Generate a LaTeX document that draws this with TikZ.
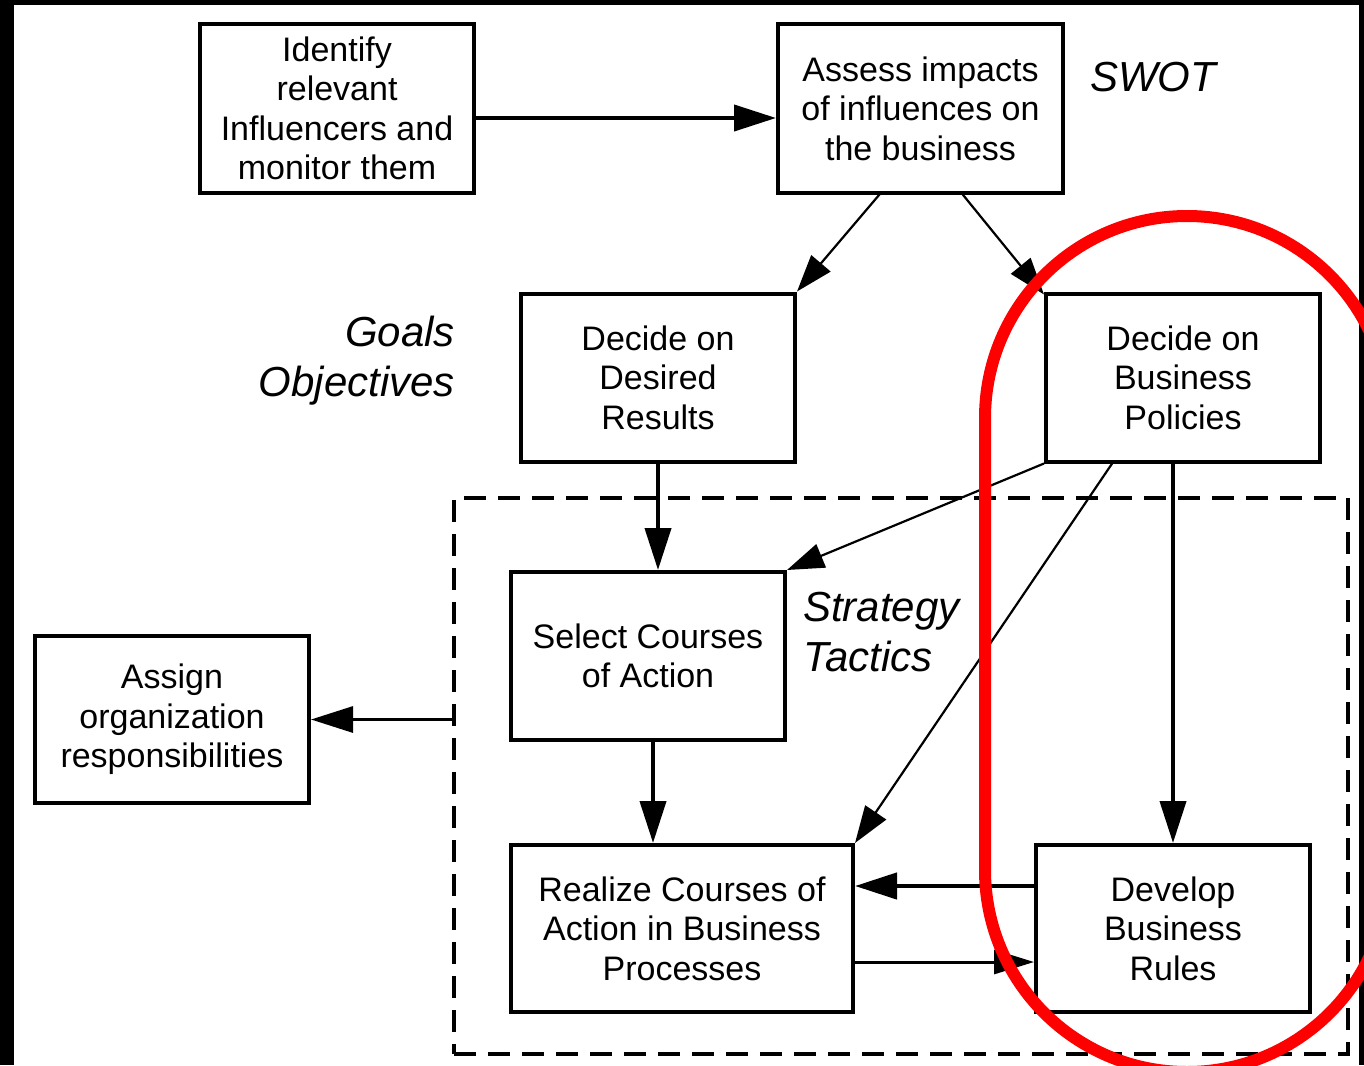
\documentclass[tikz,border=0pt]{standalone}
\usepackage{fontspec}
\setmainfont{Liberation Sans}
\usetikzlibrary{arrows.meta,calc}
\begin{document}
\begin{tikzpicture}[x=1pt,y=-1pt,
  box/.style={draw,line width=4pt,minimum width=274pt,minimum height=168pt,inner sep=0pt,align=center,font=\fontsize{34}{39.5}\selectfont},
  lab/.style={inner sep=0pt,font=\fontsize{42}{50}\selectfont\itshape},
  thk/.style={line width=4pt,-{Triangle[length=42pt,width=26pt]}},
  thn/.style={line width=2.2pt,-{Triangle[length=37pt,width=25pt]}},
  dashbox/.style={draw,line width=3.5pt,dash pattern=on 22pt off 12pt,minimum width=894pt,minimum height=556pt,inner sep=0pt},
  redring/.style={draw=red,line width=12pt,rounded corners=202pt}
]
\useasboundingbox (0,0) rectangle (1364,1065);
\fill[white] (0,0) rectangle (1364,1065);
\fill[black] (0,0) rectangle (14,1065);
\fill[black] (0,0) rectangle (1364,5);
\fill[black] (1359,0) rectangle (1364,1065);

% dashed region
\node[dashbox] (strat) at (901,776) {};

% boxes
\node[box] (ident) at (337,108.5) {Identify\\relevant\\Influencers and\\monitor them};
\node[box,minimum width=285pt] (assess) at (920.5,108.5) {Assess impacts\\of influences on\\the business};
\node[box] (desired) at (658,377.5) {Decide on\\Desired\\Results};
\node[box] (policies) at (1183,377.5) {Decide on\\Business\\Policies};
\node[box] (select) at (648,656) {Select Courses\\of Action};
\node[box,minimum height=167pt] (assign) at (172,719.5) {Assign\\organization\\responsibilities};
\node[box,minimum width=342pt,minimum height=167pt] (realize) at (682,928.5) {Realize Courses of\\Action in Business\\Processes};
\node[box,minimum height=167pt] (develop) at (1173,928.5) {Develop\\Business\\Rules};

% labels
\node[lab,anchor=base west] (swot) at (1090,91) {SWOT};
\node[lab,align=right,anchor=east] (goals) at (455,361) {Goals\\Objectives};
\node[lab,align=left,anchor=west] (tact) at (803,632) {Strategy\\Tactics};

% connectors
\draw[thk] ([yshift=-9.5pt]ident.east) -- ([yshift=-9.5pt]assess.west);
\draw[thn] ($(assess.south west)!0.358!(assess.south east)$) -- (desired.north east);
\draw[thn] ($(assess.south west)!0.646!(assess.south east)$) -- ([yshift=-3pt]policies.north west);
\draw[thk] (desired.south) -- (desired.south |- select.north);
\draw[thn] (policies.south west) -- (select.north east);
\draw[thn] ($(policies.south west)!0.245!(policies.south east)$) -- (realize.north east);
\draw[thk] (develop.north |- policies.south) -- (develop.north);
\coordinate (selout) at ($(select.south west)!0.518!(select.south east)$);
\draw[thk] (selout) -- (selout |- realize.north);
\draw[thk,line width=4.5pt] ([yshift=42.5pt]develop.west) -- ([yshift=42.5pt]realize.east);
\draw[thn,line width=3pt,-{Triangle[length=40pt,width=24pt]}] ([yshift=-33.5pt]realize.east) -- ([yshift=-33.5pt]develop.west);
\draw[thk,line width=3pt] (assign.east -| strat.west) -- (assign.east);

% red highlight
\begin{scope}
\clip (0,0) rectangle (1364,1065);
\draw[redring] (985,216) rectangle (1389,1072);
\end{scope}
\end{tikzpicture}
\end{document}
